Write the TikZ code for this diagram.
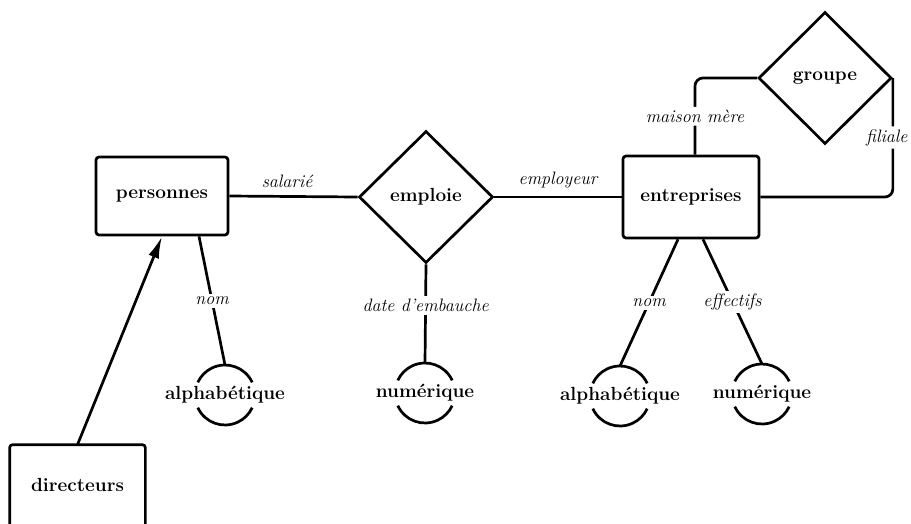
\documentclass[tikz,border=0pt]{standalone}
\usepackage{fontspec}
\usetikzlibrary{shapes.geometric,arrows.meta}
\newcommand\entfont{\fontsize{19}{21}\selectfont\bfseries}
\newcommand\rolefont{\fontsize{18}{20}\selectfont\itshape}
\newcommand\vsarcs[1]{%
  \draw ([shift={(25:30pt)}]#1.center) arc[start angle=25,end angle=155,radius=30pt];
  \draw ([shift={(205:30pt)}]#1.center) arc[start angle=205,end angle=335,radius=30pt];}
\begin{document}
\begin{tikzpicture}[x=1pt,y=1pt,line width=2.7pt,
  entity/.style={draw, rounded corners=3pt, minimum width=132pt, minimum height=78pt, inner sep=0pt, font=\entfont},
  rel/.style={draw, diamond, minimum width=134pt, minimum height=132pt, inner sep=0pt, font=\entfont},
  valset/.style={rectangle, inner sep=0pt, font=\entfont},
  role/.style={font=\rolefont, fill=white, inner sep=3pt},
  roleabove/.style={font=\rolefont, inner sep=3pt, above=4pt},
]
\useasboundingbox (0,0) rectangle (911,-523);
% entities
\node[entity] (pers) at (162,-196) {personnes};
\node[entity, minimum width=136pt, minimum height=82pt] (entr) at (691,-197) {entreprises};
\node[entity, draw=none, minimum width=133pt, minimum height=77pt] (dir) at (77.5,-484.5) {directeurs};
\draw[rounded corners=3pt] (dir.south west) -- (dir.north west) -- (dir.north east) -- (dir.south east);
% relationships
\node[rel] (empl) at (426,-197) {emploie};
\node[rel, minimum width=133pt] (grp) at (825,-78) {groupe};
% value sets
\node[valset] (v1) at (225,-395) {alphab\'etique};
\node[valset] (v2) at (425,-393) {num\'erique};
\node[valset] (v3) at (620,-396) {alphab\'etique};
\node[valset] (v4) at (762,-394) {num\'erique};
\vsarcs{v1}
\vsarcs{v2}
\vsarcs{v3}
\vsarcs{v4}
% role connectors
\draw (pers.east) -- node[roleabove, pos=0.45] {salari\'e} (empl.west);
\draw (empl.east) -- node[roleabove] {employeur} (entr.west);
\draw ([xshift=37pt]pers.south) -- node[role] {nom} ([yshift=30pt]v1.center);
\draw (empl.south) -- node[role, pos=0.42] {date d'embauche} ([yshift=30pt]v2.center);
\draw ([xshift=-13pt]entr.south) -- node[role] {nom} ([yshift=30pt]v3.center);
\draw ([xshift=12pt]entr.south) -- node[role] {effectifs} ([yshift=30pt]v4.center);
\draw[rounded corners=8pt] (grp.west) -| node[role, pos=0.75] {maison m\`ere} ([xshift=4pt]entr.north);
\draw[rounded corners=8pt] (grp.east) |- node[role, pos=0.25, xshift=-6pt, inner xsep=1pt] {filiale} (entr.east);
% generalisation arrow
\draw[-{Latex[length=22pt,width=11pt]}] (dir.north) -- (pers.south);
\end{tikzpicture}
\end{document}
